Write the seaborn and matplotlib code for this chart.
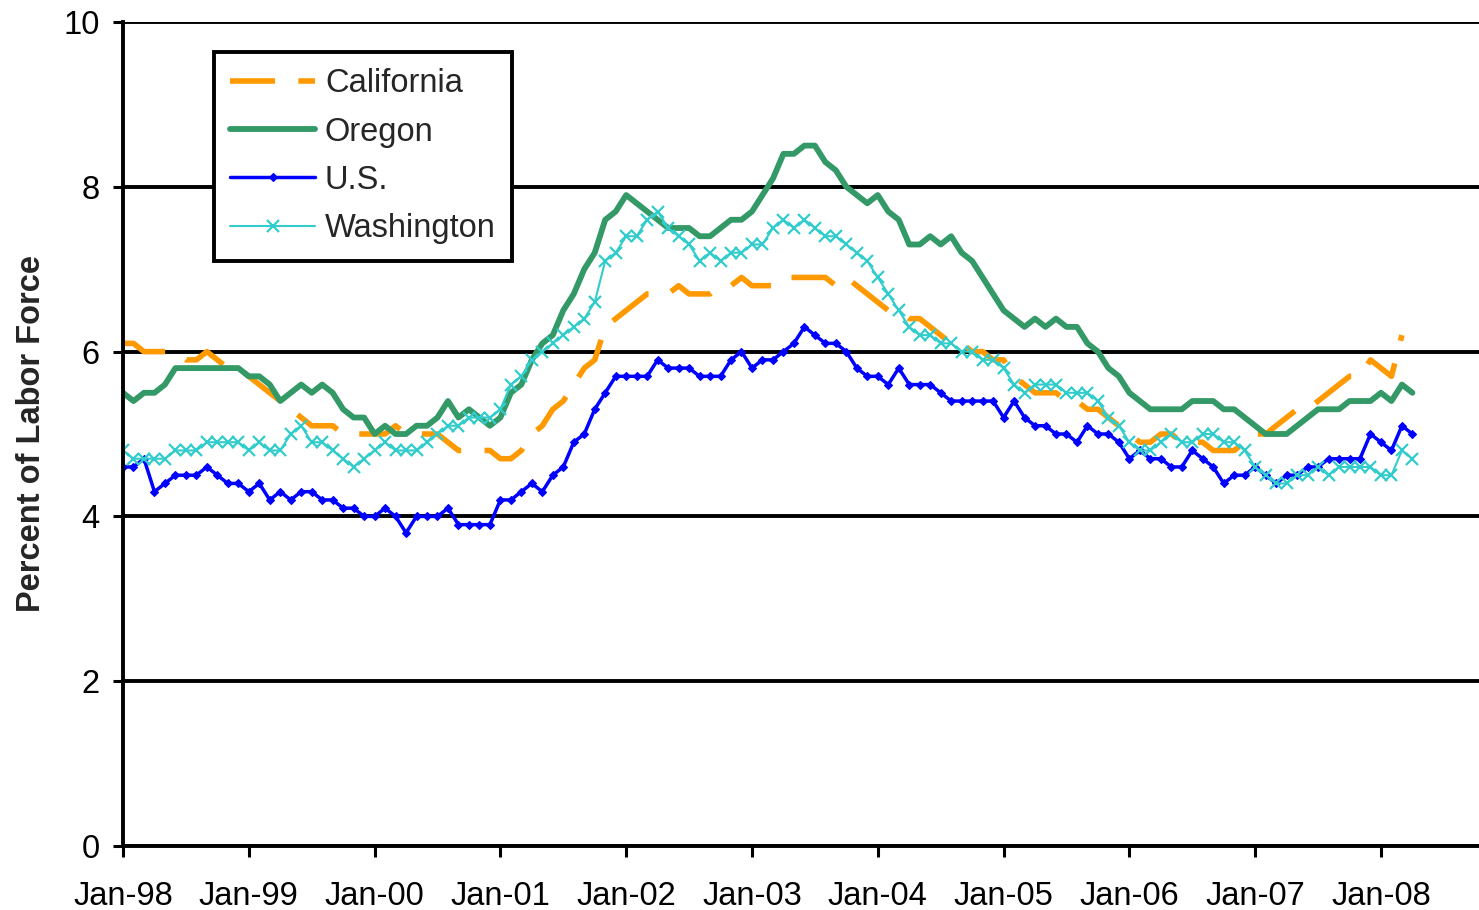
"""
Unemployment rate, Jan-98 .. Apr-08: California, Oregon, U.S., Washington.
"""
import matplotlib
matplotlib.use("Agg")
import matplotlib.pyplot as plt
import numpy as np
import seaborn as sns

# ─────────────────────────────────────────────────────────────────────────────
# Data (percent of labor force, monthly, Jan-98 .. Apr-08)
# ─────────────────────────────────────────────────────────────────────────────
california = [
    6.1, 6.1, 6.0, 6.0, 6.0, 6.0, 5.9, 5.9, 6.0, 5.9, 5.8, 5.8,   # 1998
    5.7, 5.6, 5.5, 5.4, 5.3, 5.2, 5.1, 5.1, 5.1, 5.0, 5.0, 5.0,   # 1999
    5.0, 5.0, 5.1, 5.0, 5.0, 5.0, 5.0, 4.9, 4.8, 4.8, 4.8, 4.8,   # 2000
    4.7, 4.7, 4.8, 5.0, 5.1, 5.3, 5.4, 5.6, 5.8, 5.9, 6.3, 6.4,   # 2001
    6.5, 6.6, 6.7, 6.7, 6.7, 6.8, 6.7, 6.7, 6.7, 6.8, 6.8, 6.9,   # 2002
    6.8, 6.8, 6.8, 6.9, 6.9, 6.9, 6.9, 6.9, 6.8, 6.9, 6.8, 6.7,   # 2003
    6.6, 6.5, 6.5, 6.4, 6.4, 6.3, 6.2, 6.1, 6.1, 6.0, 6.0, 5.9,   # 2004
    5.9, 5.7, 5.6, 5.5, 5.5, 5.5, 5.4, 5.4, 5.3, 5.3, 5.2, 5.1,   # 2005
    5.0, 4.9, 4.9, 5.0, 5.0, 4.9, 4.9, 4.9, 4.8, 4.8, 4.8, 4.9,   # 2006
    5.0, 5.0, 5.1, 5.2, 5.3, 5.3, 5.4, 5.5, 5.6, 5.7, 5.7, 5.9,   # 2007
    5.8, 5.7, 6.2, np.nan,                                         # 2008
]
oregon = [
    5.5, 5.4, 5.5, 5.5, 5.6, 5.8, 5.8, 5.8, 5.8, 5.8, 5.8, 5.8,
    5.7, 5.7, 5.6, 5.4, 5.5, 5.6, 5.5, 5.6, 5.5, 5.3, 5.2, 5.2,
    5.0, 5.1, 5.0, 5.0, 5.1, 5.1, 5.2, 5.4, 5.2, 5.3, 5.2, 5.1,
    5.2, 5.5, 5.6, 5.9, 6.1, 6.2, 6.5, 6.7, 7.0, 7.2, 7.6, 7.7,
    7.9, 7.8, 7.7, 7.6, 7.5, 7.5, 7.5, 7.4, 7.4, 7.5, 7.6, 7.6,
    7.7, 7.9, 8.1, 8.4, 8.4, 8.5, 8.5, 8.3, 8.2, 8.0, 7.9, 7.8,
    7.9, 7.7, 7.6, 7.3, 7.3, 7.4, 7.3, 7.4, 7.2, 7.1, 6.9, 6.7,
    6.5, 6.4, 6.3, 6.4, 6.3, 6.4, 6.3, 6.3, 6.1, 6.0, 5.8, 5.7,
    5.5, 5.4, 5.3, 5.3, 5.3, 5.3, 5.4, 5.4, 5.4, 5.3, 5.3, 5.2,
    5.1, 5.0, 5.0, 5.0, 5.1, 5.2, 5.3, 5.3, 5.3, 5.4, 5.4, 5.4,
    5.5, 5.4, 5.6, 5.5,
]
us = [
    4.6, 4.6, 4.7, 4.3, 4.4, 4.5, 4.5, 4.5, 4.6, 4.5, 4.4, 4.4,
    4.3, 4.4, 4.2, 4.3, 4.2, 4.3, 4.3, 4.2, 4.2, 4.1, 4.1, 4.0,
    4.0, 4.1, 4.0, 3.8, 4.0, 4.0, 4.0, 4.1, 3.9, 3.9, 3.9, 3.9,
    4.2, 4.2, 4.3, 4.4, 4.3, 4.5, 4.6, 4.9, 5.0, 5.3, 5.5, 5.7,
    5.7, 5.7, 5.7, 5.9, 5.8, 5.8, 5.8, 5.7, 5.7, 5.7, 5.9, 6.0,
    5.8, 5.9, 5.9, 6.0, 6.1, 6.3, 6.2, 6.1, 6.1, 6.0, 5.8, 5.7,
    5.7, 5.6, 5.8, 5.6, 5.6, 5.6, 5.5, 5.4, 5.4, 5.4, 5.4, 5.4,
    5.2, 5.4, 5.2, 5.1, 5.1, 5.0, 5.0, 4.9, 5.1, 5.0, 5.0, 4.9,
    4.7, 4.8, 4.7, 4.7, 4.6, 4.6, 4.8, 4.7, 4.6, 4.4, 4.5, 4.5,
    4.6, 4.5, 4.4, 4.5, 4.5, 4.6, 4.6, 4.7, 4.7, 4.7, 4.7, 5.0,
    4.9, 4.8, 5.1, 5.0,
]
washington = [
    4.8, 4.7, 4.7, 4.7, 4.7, 4.8, 4.8, 4.8, 4.9, 4.9, 4.9, 4.9,
    4.8, 4.9, 4.8, 4.8, 5.0, 5.1, 4.9, 4.9, 4.8, 4.7, 4.6, 4.7,
    4.8, 4.9, 4.8, 4.8, 4.8, 4.9, 5.0, 5.1, 5.1, 5.2, 5.2, 5.2,
    5.3, 5.6, 5.7, 5.9, 6.0, 6.1, 6.2, 6.3, 6.4, 6.6, 7.1, 7.2,
    7.4, 7.4, 7.6, 7.7, 7.5, 7.4, 7.3, 7.1, 7.2, 7.1, 7.2, 7.2,
    7.3, 7.3, 7.5, 7.6, 7.5, 7.6, 7.5, 7.4, 7.4, 7.3, 7.2, 7.1,
    6.9, 6.7, 6.5, 6.3, 6.2, 6.2, 6.1, 6.1, 6.0, 6.0, 5.9, 5.9,
    5.8, 5.6, 5.5, 5.6, 5.6, 5.6, 5.5, 5.5, 5.5, 5.4, 5.2, 5.1,
    4.9, 4.8, 4.8, 4.9, 5.0, 4.9, 4.9, 5.0, 5.0, 4.9, 4.9, 4.8,
    4.6, 4.5, 4.4, 4.4, 4.5, 4.5, 4.6, 4.5, 4.6, 4.6, 4.6, 4.6,
    4.5, 4.5, 4.8, 4.7,
]
year_labels = ["Jan-98", "Jan-99", "Jan-00", "Jan-01", "Jan-02", "Jan-03",
               "Jan-04", "Jan-05", "Jan-06", "Jan-07", "Jan-08"]

month_idx = np.arange(len(us))

# ─────────────────────────────────────────────────────────────────────────────
# Style
# ─────────────────────────────────────────────────────────────────────────────
sns.set_style("white")
plt.rcParams["font.family"] = ["Liberation Sans", "DejaVu Sans"]
_FS = 23.5
_LW_AXIS = 2.8

fig = plt.figure(figsize=(14.79, 9.10), dpi=100)
ax = fig.add_axes([123 / 1479, 64 / 910, 1356 / 1479, 824 / 910])

# Series, drawn in legend order (later on top)
sns.lineplot(x=month_idx, y=california, ax=ax, label="California",
             color="#FF9900", linewidth=4.0, linestyle=(0, (8.1, 4.2)),
             errorbar=None)
sns.lineplot(x=month_idx, y=oregon, ax=ax, label="Oregon",
             color="#339966", linewidth=4.2, solid_capstyle="round",
             solid_joinstyle="round", errorbar=None)
sns.lineplot(x=month_idx, y=us, ax=ax, label="U.S.",
             color="#0000FF", linewidth=2.5, marker="D", markersize=4.5,
             markeredgecolor="#0000FF", markeredgewidth=0.8, errorbar=None)
sns.lineplot(x=month_idx, y=washington, ax=ax, label="Washington",
             color="#33CCCC", linewidth=1.5, marker="x", markersize=8.5,
             markeredgecolor="#33CCCC", markeredgewidth=1.6, errorbar=None)

# Axes
ax.set_xlim(0, 1356 / 10.483)
ax.set_ylim(0, 10)
ax.set_yticks(np.arange(0, 11, 2))
ax.set_xticks(np.arange(0, len(year_labels) * 12, 12))
ax.set_xticklabels(year_labels)
ax.set_xlabel("")
ax.set_ylabel("Percent of Labor Force", fontsize=_FS, fontweight="bold")
ax.yaxis.set_label_coords(-0.056, 0.5)

ax.grid(axis="y", color="black", linewidth=_LW_AXIS)
ax.grid(axis="x", visible=False)
for side in ("top", "right"):
    ax.spines[side].set_visible(False)
for side in ("left", "bottom"):
    ax.spines[side].set_color("black")
    ax.spines[side].set_linewidth(_LW_AXIS)

ax.tick_params(axis="y", direction="out", length=7, width=2.2, pad=10,
               labelsize=_FS, left=True, colors="black")
ax.tick_params(axis="x", direction="out", length=8, width=2.2, pad=17,
               labelsize=_FS, bottom=True, colors="black")

leg = ax.legend(loc="upper left", bbox_to_anchor=(0.0671, 0.9636),
                borderaxespad=0, fontsize=_FS, frameon=True, fancybox=False,
                framealpha=1, edgecolor="black", borderpad=0.5,
                labelspacing=0.53, handlelength=2.6, handletextpad=0.3)
leg.get_frame().set_linewidth(_LW_AXIS)

fig.savefig("out.png", dpi=100)
plt.close(fig)
